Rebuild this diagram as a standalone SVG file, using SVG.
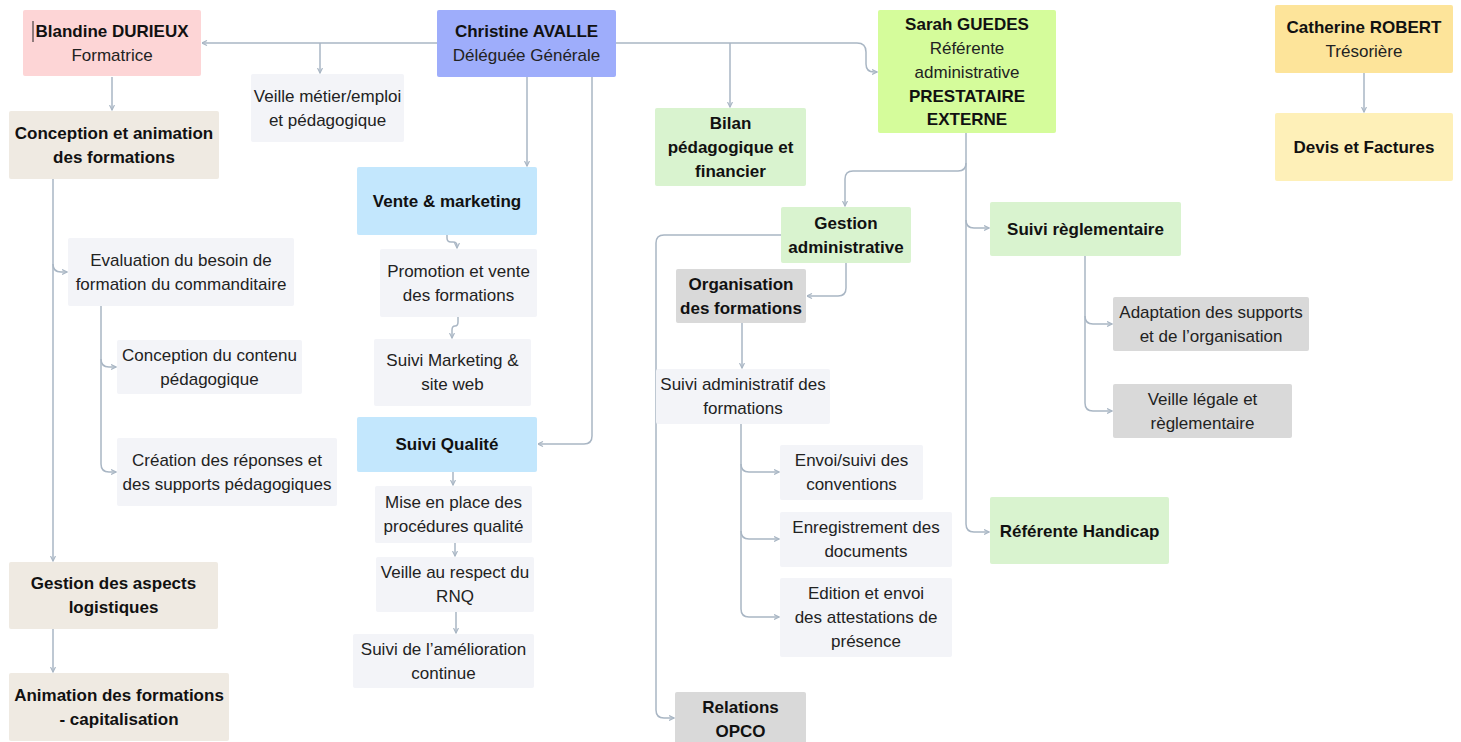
<svg xmlns="http://www.w3.org/2000/svg" width="1461" height="742" viewBox="0 0 1461 742">
<style>
text{font-family:"Liberation Sans",Arial,sans-serif;font-size:17px;fill:#222;text-anchor:middle}
.b{font-weight:bold;fill:#111}
.c{fill:none;stroke:#a9b6c4;stroke-width:1.5;marker-end:url(#ah)}
.pink{fill:#fdd5d6}.peri{fill:#9eadfb}.grey{fill:#f3f4f8}.beige{fill:#efeae2}.blue{fill:#c3e7fd}
.lime{fill:#d5fc9b}.lg{fill:#d9f3cf}.yel{fill:#fde49a}.ly{fill:#fef0b8}.dg{fill:#d9d9d9}
</style>
<defs>
<marker id="ah" viewBox="0 0 6 6" refX="5.5" refY="3" markerWidth="6" markerHeight="6" markerUnits="userSpaceOnUse" orient="auto">
<path d="M0.5,0.5 L5.5,3 L0.5,5.5" fill="none" stroke="#a9b6c4" stroke-width="1.2"/>
</marker>
</defs>
<rect width="1461" height="742" fill="#fff"/>
<g id="connectors">
<path class="c" d="M437,43 H202"/>
<path class="c" d="M320,43 V73"/>
<path class="c" d="M616,43 H857 Q866,43 866,52 V64 Q866,72 874,72 H877"/>
<path class="c" d="M730,43 V107"/>
<path class="c" d="M527,77 V166"/>
<path class="c" d="M592,68 V436 Q592,444 584,444 H538"/>
<path class="c" d="M112,77 V110"/>
<path class="c" d="M53,179 V561"/>
<path class="c" d="M53,264 Q53,272 61,272 H67"/>
<path class="c" d="M53,629 V672"/>
<path class="c" d="M101,306 V359 Q101,367 109,367 H116"/>
<path class="c" d="M101,359 V464 Q101,472 109,472 H116"/>
<path class="c" d="M447,235 V238 Q447,242 451,242 H453 Q457,242 457,246 V248"/>
<path class="c" d="M458,317 V322 Q458,326 455,326 Q452,326 452,330 V338"/>
<path class="c" d="M453,472 V485"/>
<path class="c" d="M455,538 V556"/>
<path class="c" d="M452,608 Q456,608 456,612 V633"/>
<path class="c" d="M527,515 H531"/>
<path class="c" d="M966,133 V163 Q966,171 958,171 H853 Q845,171 845,179 V206"/>
<path class="c" d="M966,163 V220 Q966,228 974,228 H989"/>
<path class="c" d="M966,220 V524 Q966,532 974,532 H989"/>
<path class="c" d="M846,263 V288 Q846,296 838,296 H807"/>
<path class="c" d="M781,235 H664 Q656,235 656,243 V710 Q656,718 664,718 H674"/>
<path class="c" d="M742,323 V368"/>
<path class="c" d="M741,424 V464 Q741,472 749,472 H779"/>
<path class="c" d="M741,464 V531 Q741,539 749,539 H779"/>
<path class="c" d="M741,531 V609 Q741,617 749,617 H779"/>
<path class="c" d="M1085,256 V316 Q1085,324 1093,324 H1112"/>
<path class="c" d="M1085,316 V403 Q1085,411 1093,411 H1112"/>
<path class="c" d="M1364,73 V112"/>
</g>
<g id="blandine"><rect class="pink" x="23" y="10" width="178" height="66" rx="2"/><line x1="33" y1="21" x2="33" y2="42" stroke="#222" stroke-width="1"/><text class="b" x="112" y="37">Blandine DURIEUX</text><text x="112" y="61">Formatrice</text></g>
<g id="christine"><rect class="peri" x="437" y="10" width="179" height="67" rx="2"/><text class="b" x="526.5" y="37">Christine AVALLE</text><text x="526.5" y="61">Déléguée Générale</text></g>
<g id="veille-metier"><rect class="grey" x="251" y="74" width="153" height="68" rx="2"/><text x="327.5" y="102">Veille métier/emploi</text><text x="327.5" y="126">et pédagogique</text></g>
<g id="conception-animation"><rect class="beige" x="9" y="111" width="210" height="68" rx="2"/><text class="b" x="114" y="139">Conception et animation</text><text class="b" x="114" y="163">des formations</text></g>
<g id="vente"><rect class="blue" x="357" y="167" width="180" height="68" rx="2"/><text class="b" x="447" y="207">Vente &amp; marketing</text></g>
<g id="promotion"><rect class="grey" x="380" y="249" width="157" height="68" rx="2"/><text x="458.5" y="277">Promotion et vente</text><text x="458.5" y="301">des formations</text></g>
<g id="suivi-marketing"><rect class="grey" x="374" y="339" width="157" height="67" rx="2"/><text x="452.5" y="366">Suivi Marketing &amp;</text><text x="452.5" y="390">site web</text></g>
<g id="suivi-qualite"><rect class="blue" x="357" y="417" width="180" height="55" rx="2"/><text class="b" x="447" y="450">Suivi Qualité</text></g>
<g id="mise-en-place"><rect class="grey" x="375" y="486" width="157" height="57" rx="2"/><text x="453.5" y="508">Mise en place des</text><text x="453.5" y="532">procédures qualité</text></g>
<g id="veille-rnq"><rect class="grey" x="376" y="557" width="158" height="55" rx="2"/><text x="455" y="578">Veille au respect du</text><text x="455" y="602">RNQ</text></g>
<g id="suivi-amelioration"><rect class="grey" x="353" y="634" width="181" height="54" rx="2"/><text x="443.5" y="655">Suivi de l’amélioration</text><text x="443.5" y="679">continue</text></g>
<g id="evaluation"><rect class="grey" x="68" y="238" width="226" height="68" rx="2"/><text x="181" y="266">Evaluation du besoin de</text><text x="181" y="290">formation du commanditaire</text></g>
<g id="conception-contenu"><rect class="grey" x="117" y="340" width="185" height="54" rx="2"/><text x="209.5" y="361">Conception du contenu</text><text x="209.5" y="385">pédagogique</text></g>
<g id="creation"><rect class="grey" x="117" y="438" width="220" height="68" rx="2"/><text x="227" y="466">Création des réponses et</text><text x="227" y="490">des supports pédagogiques</text></g>
<g id="gestion-aspects"><rect class="beige" x="9" y="562" width="209" height="67" rx="2"/><text class="b" x="113.5" y="589">Gestion des aspects</text><text class="b" x="113.5" y="613">logistiques</text></g>
<g id="animation"><rect class="beige" x="9" y="673" width="220" height="68" rx="2"/><text class="b" x="119" y="701">Animation des formations</text><text class="b" x="119" y="725">- capitalisation</text></g>
<g id="bilan"><rect class="lg" x="655" y="108" width="151" height="78" rx="2"/><text class="b" x="730.5" y="129">Bilan</text><text class="b" x="730.5" y="153">pédagogique et</text><text class="b" x="730.5" y="177">financier</text></g>
<g id="sarah"><rect class="lime" x="878" y="10" width="178" height="123" rx="2"/><text class="b" x="967" y="30">Sarah GUEDES</text><text x="967" y="54">Référente</text><text x="967" y="78">administrative</text><text class="b" x="967" y="102">PRESTATAIRE</text><text class="b" x="967" y="125">EXTERNE</text></g>
<g id="catherine"><rect class="yel" x="1275" y="5" width="178" height="68" rx="2"/><text class="b" x="1364" y="33">Catherine ROBERT</text><text x="1364" y="57">Trésorière</text></g>
<g id="devis"><rect class="ly" x="1275" y="113" width="178" height="68" rx="2"/><text class="b" x="1364" y="153">Devis et Factures</text></g>
<g id="gestion-admin"><rect class="lg" x="781" y="207" width="130" height="56" rx="2"/><text class="b" x="846" y="229">Gestion</text><text class="b" x="846" y="253">administrative</text></g>
<g id="suivi-reglementaire"><rect class="lg" x="990" y="202" width="191" height="54" rx="2"/><text class="b" x="1085.5" y="235">Suivi règlementaire</text></g>
<g id="organisation"><rect class="dg" x="676" y="269" width="130" height="54" rx="2"/><text class="b" x="741" y="290">Organisation</text><text class="b" x="741" y="314">des formations</text></g>
<g id="suivi-administratif"><rect class="grey" x="656" y="369" width="174" height="55" rx="2"/><text x="743" y="390">Suivi administratif des</text><text x="743" y="414">formations</text></g>
<g id="envoi"><rect class="grey" x="780" y="445" width="143" height="55" rx="2"/><text x="851.5" y="466">Envoi/suivi des</text><text x="851.5" y="490">conventions</text></g>
<g id="enregistrement"><rect class="grey" x="780" y="512" width="172" height="55" rx="2"/><text x="866" y="533">Enregistrement des</text><text x="866" y="557">documents</text></g>
<g id="edition"><rect class="grey" x="780" y="578" width="172" height="79" rx="2"/><text x="866" y="599">Edition et envoi</text><text x="866" y="623">des attestations de</text><text x="866" y="647">présence</text></g>
<g id="relations-opco"><rect class="dg" x="675" y="692" width="131" height="56" rx="2"/><text class="b" x="740.5" y="713">Relations</text><text class="b" x="740.5" y="737">OPCO</text></g>
<g id="adaptation"><rect class="dg" x="1113" y="297" width="196" height="54" rx="2"/><text x="1211" y="318">Adaptation des supports</text><text x="1211" y="342">et de l’organisation</text></g>
<g id="veille-legale"><rect class="dg" x="1113" y="384" width="179" height="54" rx="2"/><text x="1202.5" y="405">Veille légale et</text><text x="1202.5" y="429">règlementaire</text></g>
<g id="referente-handicap"><rect class="lg" x="990" y="497" width="179" height="67" rx="2"/><text class="b" x="1079.5" y="537">Référente Handicap</text></g>
</svg>
